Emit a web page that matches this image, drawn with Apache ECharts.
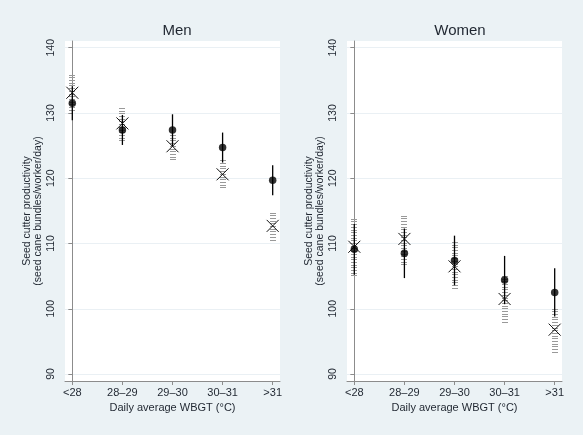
<!DOCTYPE html>
<html>
<head>
<meta charset="utf-8">
<script src="https://cdn.jsdelivr.net/npm/echarts@6/dist/echarts.min.js"></script>
<style>
html,body{margin:0;padding:0;background:#ebf2f5;}
#chart{width:583px;height:435px;}
</style>
</head>
<body>
<div id="chart"></div>
<script>
const categories = ['<28', '28–29', '29–30', '30–31', '>31'];
const yTicks = [90, 100, 110, 120, 130, 140];

// Men: filled dot estimate with solid CI
const menDot   = [131.5, 127.4, 127.4, 124.7, 119.7];
const menDotLo = [128.9, 125.1, 124.9, 122.4, 117.4];
const menDotHi = [134.1, 129.7, 129.8, 127.0, 122.0];
// Men: X estimate with dashed CI
const menX   = [133.1, 128.4, 124.9, 120.6, 112.7];
const menXLo = [130.5, 125.8, 122.9, 118.6, 110.6];
const menXHi = [136.0, 131.0, 126.7, 122.8, 115.0];

// Women
const womenDot   = [109.1, 108.5, 107.4, 104.4, 102.5];
const womenDotLo = [105.2, 104.7, 103.6, 100.7, 98.8];
const womenDotHi = [113.0, 112.3, 111.2, 108.1, 106.2];
const womenX   = [109.5, 110.7, 106.5, 101.5, 96.8];
const womenXLo = [105.1, 106.8, 103.2, 98.0, 93.4];
const womenXHi = [113.9, 114.6, 110.5, 105.1, 100.3];

const panels = ['Men', 'Women'];

const FONT = 'Liberation Sans, Arial, sans-serif';
const TXT = '#1f2630';
const AX = '#8c8c8c';

const chart = echarts.init(document.getElementById('chart'), null, {renderer: 'canvas'});

function grid(left) {
  return {left: left, top: 41, width: 215, height: 340, show: true, backgroundColor: '#ffffff', borderWidth: 0};
}
function xAxis(gi) {
  return {
    type: 'value', gridIndex: gi, min: -0.146, max: 4.146,
    axisLine: {show: true, lineStyle: {color: AX, width: 1}},
    axisTick: {show: true, length: 4, lineStyle: {color: AX}, customValues: [0, 1, 2, 3, 4]},
    axisLabel: {customValues: [0, 1, 2, 3, 4], formatter: v => categories[Math.round(v)], margin: 6,
      fontFamily: FONT, fontSize: 11, color: TXT},
    splitLine: {show: false},
    name: 'Daily average WBGT (°C)', nameLocation: 'middle', nameGap: 18,
    nameTextStyle: {fontFamily: FONT, fontSize: 11, color: TXT}
  };
}
function yAxis(gi) {
  return {
    type: 'value', gridIndex: gi, min: 88.93, max: 141.03,
    axisLine: {show: true, lineStyle: {color: AX, width: 1}},
    axisTick: {show: true, length: 4, lineStyle: {color: AX}, customValues: yTicks},
    axisLabel: {customValues: yTicks, rotate: 90, margin: 8, fontFamily: FONT, fontSize: 10.5, color: TXT},
    splitLine: {show: true, lineStyle: {color: '#eaf0f4', width: 1}},
    name: 'Seed cutter productivity\n(seed cane bundles/worker/day)',
    nameLocation: 'middle', nameRotate: 90, nameGap: 21,
    nameTextStyle: {fontFamily: FONT, fontSize: 10.5, lineHeight: 11.5, color: TXT}
  };
}

function dashCI(gi, lo, hi) {
  return {
    type: 'custom', xAxisIndex: gi, yAxisIndex: gi, z: 2,
    data: lo.map((v, i) => [i, v, hi[i]]),
    renderItem(params, api) {
      const top = api.coord([api.value(0), api.value(2)]);
      const bot = api.coord([api.value(0), api.value(1)]);
      const cx = Math.round(top[0]);
      const children = [];
      for (let y = bot[1]; y >= top[1] - 0.1; y -= 2.7) {
        const yy = Math.round(y) + 0.5;
        children.push({type: 'line', shape: {x1: cx - 3, y1: yy, x2: cx + 3, y2: yy},
          style: {stroke: '#999999', lineWidth: 1}});
      }
      return {type: 'group', children};
    }
  };
}
function solidCI(gi, lo, hi) {
  return {
    type: 'custom', xAxisIndex: gi, yAxisIndex: gi, z: 3,
    data: lo.map((v, i) => [i, v, hi[i]]),
    renderItem(params, api) {
      const top = api.coord([api.value(0), api.value(2)]);
      const bot = api.coord([api.value(0), api.value(1)]);
      return {type: 'line', shape: {x1: top[0], y1: top[1], x2: bot[0], y2: bot[1]},
        style: {stroke: '#000', lineWidth: 1.3}};
    }
  };
}
function xMark(gi, vals) {
  return {
    type: 'custom', xAxisIndex: gi, yAxisIndex: gi, z: 4,
    data: vals.map((v, i) => [i, v]),
    renderItem(params, api) {
      const p = api.coord([api.value(0), api.value(1)]);
      const s = 6;
      return {type: 'group', children: [
        {type: 'line', shape: {x1: p[0] - s, y1: p[1] - s, x2: p[0] + s, y2: p[1] + s}, style: {stroke: '#111', lineWidth: 1}},
        {type: 'line', shape: {x1: p[0] - s, y1: p[1] + s, x2: p[0] + s, y2: p[1] - s}, style: {stroke: '#111', lineWidth: 1}}
      ]};
    }
  };
}
function dots(gi, vals) {
  return {
    type: 'scatter', xAxisIndex: gi, yAxisIndex: gi, z: 5,
    data: vals.map((v, i) => [i, v]), symbol: 'circle', symbolSize: 7.5,
    itemStyle: {color: '#000'}
  };
}

const option = {
  backgroundColor: '#ebf2f5',
  animation: false,
  title: [
    {text: panels[0], left: 172, top: 18, textAlign: 'center',
      textStyle: {fontFamily: FONT, fontSize: 15, fontWeight: 'normal', color: TXT}},
    {text: panels[1], left: 455, top: 18, textAlign: 'center',
      textStyle: {fontFamily: FONT, fontSize: 15, fontWeight: 'normal', color: TXT}}
  ],
  grid: [grid(65), grid(347)],
  xAxis: [xAxis(0), xAxis(1)],
  yAxis: [yAxis(0), yAxis(1)],
  series: [
    dashCI(0, menXLo, menXHi), solidCI(0, menDotLo, menDotHi), xMark(0, menX), dots(0, menDot),
    dashCI(1, womenXLo, womenXHi), solidCI(1, womenDotLo, womenDotHi), xMark(1, womenX), dots(1, womenDot)
  ]
};
chart.setOption(option);
</script>
</body>
</html>
